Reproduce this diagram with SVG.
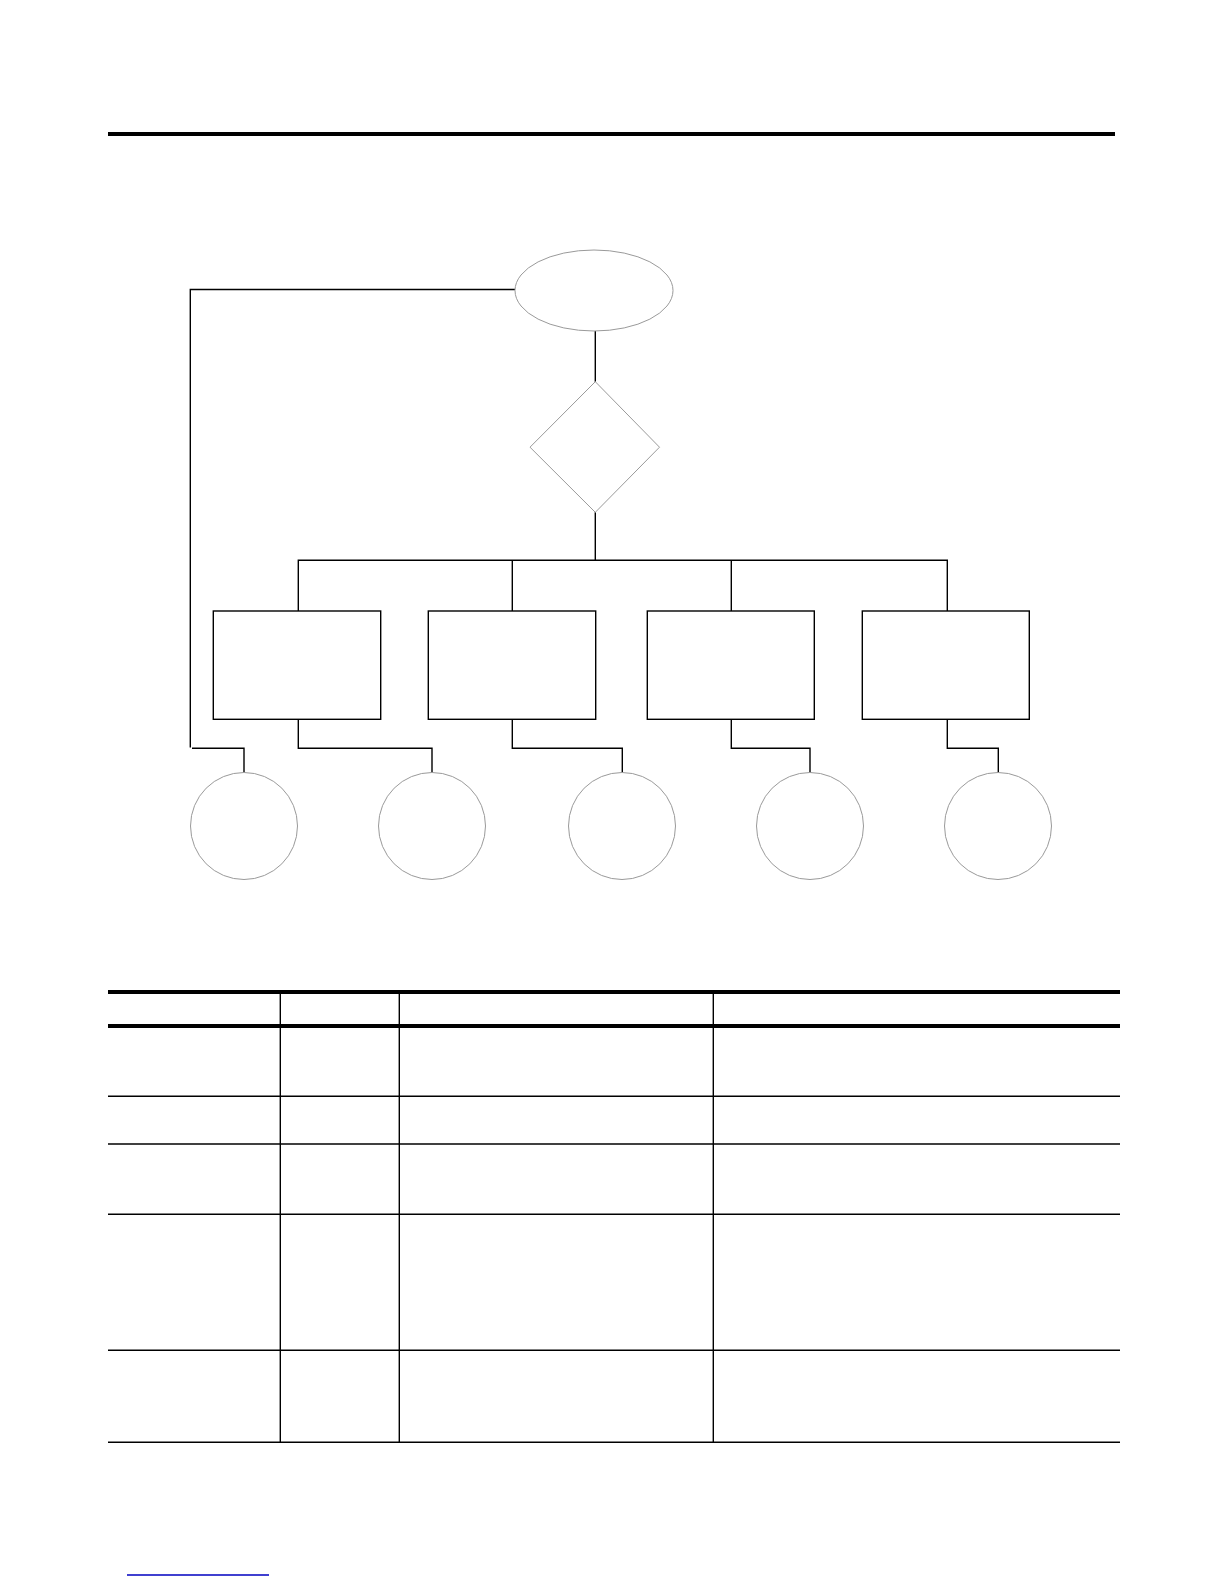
<svg xmlns="http://www.w3.org/2000/svg" width="1224" height="1584" viewBox="0 0 1224 1584">
<style>
.conn{fill:none;stroke:#000;stroke-width:1.4}
.box{fill:#fff;stroke:#000;stroke-width:1.4}
.soft{fill:#fff;stroke:#9a9a9a;stroke-width:1}
.thick{stroke:#000;stroke-width:4}
.thin{stroke:#000;stroke-width:1.4}
</style>
<rect width="1224" height="1584" fill="#fff"/>
<line class="thick" x1="108" y1="134" x2="1115" y2="134"/>
<g id="connectors">
<path class="conn" d="M515,289.5 H190.3 V747.5"/>
<path class="conn" d="M192,748.3 H244 V772.7"/>
<path class="conn" d="M595.3,331 V381.7"/>
<path class="conn" d="M595.3,512.3 V560.3"/>
<path class="conn" d="M298.3,611 V560.3 H947.3 V611"/>
<path class="conn" d="M512.3,560.3 V611"/>
<path class="conn" d="M731.3,560.3 V611"/>
<path class="conn" d="M298.3,719.3 V748.3 H432 V772.7"/>
<path class="conn" d="M512.3,719.3 V748.3 H622.3 V772.7"/>
<path class="conn" d="M731.3,719.3 V748.3 H810 V772.7"/>
<path class="conn" d="M947.3,719.3 V748.3 H998.3 V772.7"/>
</g>
<g id="start"><ellipse class="soft" cx="594" cy="290.5" rx="79" ry="40.5"/></g>
<g id="decision"><polygon class="soft" points="595.3,381.7 659.5,447.2 595.3,512.3 530,447.2"/></g>
<g id="box1"><rect class="box" x="213.3" y="611" width="167.4" height="108.3"/></g>
<g id="box2"><rect class="box" x="428.3" y="611" width="167.4" height="108.3"/></g>
<g id="box3"><rect class="box" x="647.3" y="611" width="167" height="108.3"/></g>
<g id="box4"><rect class="box" x="862.3" y="611" width="167" height="108.3"/></g>
<g id="circle1"><circle class="soft" cx="244" cy="826" r="53.5"/></g>
<g id="circle2"><circle class="soft" cx="432" cy="826" r="53.5"/></g>
<g id="circle3"><circle class="soft" cx="622" cy="826" r="53.5"/></g>
<g id="circle4"><circle class="soft" cx="810" cy="826" r="53.5"/></g>
<g id="circle5"><circle class="soft" cx="998" cy="826" r="53.5"/></g>
<g id="table">
<line class="thick" x1="108" y1="992" x2="1120" y2="992"/>
<line class="thick" x1="108" y1="1026" x2="1120" y2="1026"/>
<line class="thin" x1="108" y1="1096.3" x2="1120" y2="1096.3"/>
<line class="thin" x1="108" y1="1144" x2="1120" y2="1144"/>
<line class="thin" x1="108" y1="1214.3" x2="1120" y2="1214.3"/>
<line class="thin" x1="108" y1="1350.3" x2="1120" y2="1350.3"/>
<line class="thin" x1="108" y1="1442.3" x2="1120" y2="1442.3"/>
<line class="thin" x1="280.3" y1="994" x2="280.3" y2="1442.3"/>
<line class="thin" x1="399.3" y1="994" x2="399.3" y2="1442.3"/>
<line class="thin" x1="713.3" y1="994" x2="713.3" y2="1442.3"/>
</g>
<line x1="127" y1="1575" x2="269" y2="1575" stroke="#0000c0" stroke-width="1.4"/>
</svg>
